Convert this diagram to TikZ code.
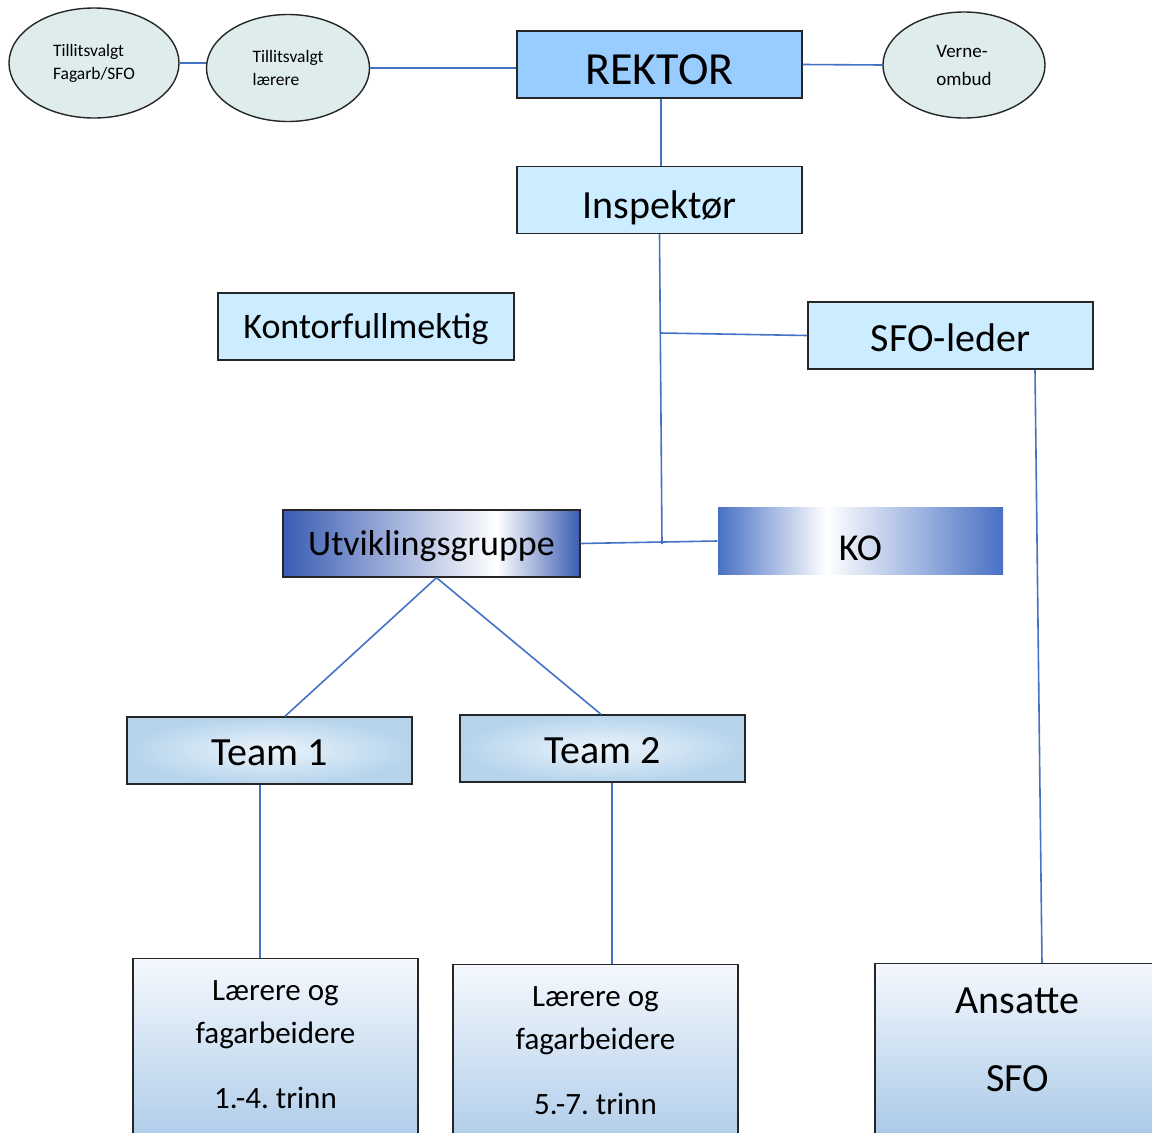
\documentclass[tikz,border=0pt]{standalone}
\usepackage{fontspec}
\setmainfont{Carlito}
\usetikzlibrary{positioning,shapes.geometric,calc}
\usepackage{xcolor}
\frenchspacing

\definecolor{linkblue}{RGB}{68,114,196}
\definecolor{rektorfill}{RGB}{153,204,255}
\definecolor{lightfill}{RGB}{204,236,255}
\definecolor{ovalfill}{RGB}{222,236,236}
\definecolor{utvdark}{RGB}{58,92,178}
\definecolor{kodark}{RGB}{72,112,196}
\definecolor{teamedge}{RGB}{182,212,236}
\definecolor{teamlight}{RGB}{236,244,251}
\definecolor{stafftop}{RGB}{244,248,253}
\definecolor{staffbot}{RGB}{170,201,232}

\pgfdeclarehorizontalshading{utvshade}{100bp}{color(0bp)=(utvdark); color(25bp)=(utvdark);
  color(61bp)=(white); color(75bp)=(utvdark); color(100bp)=(utvdark)}
\pgfdeclarehorizontalshading{koshade}{100bp}{color(0bp)=(kodark); color(25bp)=(kodark);
  color(44bp)=(white); color(75bp)=(kodark); color(100bp)=(kodark)}

\begin{document}
\begin{tikzpicture}[
  x=1pt, y=-1pt,
  font=\fontsize{40}{48}\selectfont,
  link/.style={draw=linkblue, line width=1.6pt},
  topbox/.style={draw=black!85, line width=1.4pt,
                 minimum width=285pt, minimum height=67pt, inner sep=0pt,
                 text height=36pt, text depth=0pt},
  ovalbox/.style={ellipse, draw=black!85, line width=1.4pt, fill=ovalfill,
                  inner sep=0pt, align=left, font=\fontsize{17.5}{23}\selectfont},
  teambox/.style={topbox, inner color=teamlight, outer color=teamedge,
                  text height=30pt},
  staffbox/.style={draw=black!85, line width=1.4pt, anchor=north,
                   top color=stafftop, bottom color=staffbot,
                   minimum width=285pt, inner xsep=0pt, inner ysep=14pt,
                   align=center, font=\fontsize{31}{43}\selectfont,
                   text depth=30pt},
]
\useasboundingbox (0,0) rectangle (1152,1133);
\clip (0,0) rectangle (1152,1133);

% ---- Top row ----
\node[ovalbox, minimum width=170pt, minimum height=110pt] (tvfag) at (94,63)
  {Tillitsvalgt\\Fagarb/SFO};
\node[ovalbox, minimum width=163pt, minimum height=107pt] (tvlaerer) at (288,68)
  {Tillitsvalgt\\lærere};
\node[topbox, fill=rektorfill, font=\fontsize{46}{50}\selectfont, text height=40pt]
  (rektor) at (659.5,64.5) {REKTOR};
\node[ovalbox, minimum width=162pt, minimum height=106pt,
      font=\fontsize{19}{28}\selectfont] (verne) at (964,65) {Verne-\\ombud};

% ---- Leaders ----
\node[topbox, fill=lightfill] (insp) at (659.5,200) {Inspektør};
\node[topbox, fill=lightfill, minimum width=296pt, text height=23pt,
      font=\fontsize{36}{44}\selectfont] (kontor) at (366,326.5) {Kontorfullmektig};
\node[topbox, fill=lightfill, text height=31pt] (sfoleder) at (950.5,335.5) {SFO-leder};

% ---- Groups ----
\node[topbox, minimum width=297pt, shade, shading=utvshade, text height=23pt,
      font=\fontsize{36}{44}\selectfont] (utv) at (431.5,543.5) {Utviklingsgruppe};
\node[topbox, draw=none, shade, shading=koshade, text height=38pt,
      font=\fontsize{38}{44}\selectfont] (ko) at (860.5,541) {KO};

% ---- Teams ----
\node[teambox] (team1) at (269.5,750.5) {Team 1};
\node[teambox] (team2) at (602.5,748.5) {Team 2};

% ---- Staff ----
\node[staffbox] (staff1) at (275.5,958)
  {\rule{0pt}{28pt}Lærere og\\fagarbeidere\\[22pt]1.-4. trinn};
\node[staffbox] (staff2) at (595.5,964)
  {\rule{0pt}{28pt}Lærere og\\fagarbeidere\\[22pt]5.-7. trinn};
\node[staffbox, font=\fontsize{40}{48}\selectfont] (ansatte) at (1017.5,963)
  {\rule{0pt}{36pt}Ansatte\\[30pt]SFO};

% Lines
\coordinate (jsfo) at (660,333);
\coordinate (jutv) at (662,544);
\draw[link] (tvfag.east) -- (tvfag.east -| tvlaerer.west);
\draw[link] (tvlaerer.east) -- (tvlaerer.east -| rektor.west);
\draw[link] (rektor.east) -- (verne.west);
\draw[link] ([xshift=1.5pt]rektor.south) -- ([xshift=1.5pt]insp.north);
\draw[link] (insp.south) -- (jutv);
\draw[link] (jsfo) -- (sfoleder.west);
\draw[link] (utv.east) -- (ko.west);
\draw[link] ([xshift=5pt]utv.south) -- ([xshift=15.5pt]team1.north);
\draw[link] ([xshift=5pt]utv.south) -- ([xshift=-1.5pt]team2.north);
\draw[link] ([xshift=-9.5pt]team1.south) -- ([xshift=-15.5pt]staff1.north);
\draw[link] ([xshift=9.5pt]team2.south) -- ([xshift=16.5pt]staff2.north);
\draw[link] ([xshift=84.5pt]sfoleder.south) -- ([xshift=24.5pt]ansatte.north);

\end{tikzpicture}
\end{document}
